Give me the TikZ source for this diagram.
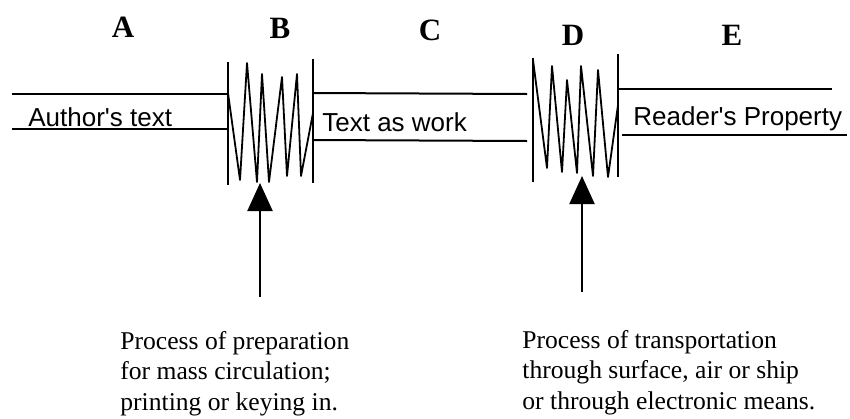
\documentclass[tikz,border=0pt]{standalone}
\usepackage{fontspec}
\setmainfont{Liberation Serif}
\newfontfamily\labsans{Liberation Sans}
\usetikzlibrary{arrows.meta}
\tikzset{
  >={Triangle[length=14pt,width=12.5pt]},
  band/.style={line width=1pt},
  wall/.style={line width=1.3pt},
  zz/.style={line width=0.9pt,line join=round},
  lt/.style={font=\bfseries\fontsize{15.5}{18}\selectfont,inner sep=0pt},
  sf/.style={font=\labsans\fontsize{13}{15}\selectfont,inner sep=0pt,anchor=base west},
  note/.style={font=\fontsize{12.8}{15.25}\selectfont,align=left,inner sep=0pt,anchor=base west},
}
\begin{document}
\begin{tikzpicture}[x=0.5pt,y=-0.5pt]
\useasboundingbox (0,0) rectangle (850,418);
% stage letters
\node[lt] (A) at (123,27){A}; \node[lt] (B) at (280,28){B}; \node[lt] (C) at (430,30){C};
\node[lt] (D) at (573,35){D}; \node[lt] (E) at (732,35){E};
% bands between the two processes
\draw[band] (12,94)--(228,94); \draw[band] (12,129)--(228,129);
\draw[band] (313,93)--(527,94); \draw[band] (313,140)--(527,141);
\draw[band] (618,89)--(832,89); \draw[band] (622,135)--(847,135);
\node[sf] (at) at (28,126){Author's text};
\node[sf] (tw) at (322,131){Text as work};
\node[sf] (rp) at (633,125){Reader's Property};
% process B
\draw[wall] (228,62)--(228,185); \draw[wall] (313,59)--(313,183);
\draw[zz] (228,93)--(240,180)--(247,63)--(257,182)--(262,74)--(269,182)--(282,77)
  --(287,176)--(297,74)--(301,176)--(313,113);
% process D
\draw[wall] (533,58)--(533,182); \draw[wall] (618,54)--(618,177);
\draw[zz] (533,60)--(547,168)--(552,66)--(562,172)--(567,80)--(577,173)--(581,66)
  --(593,176)--(598,70)--(608,177)--(618,105);
% arrows up into the processes
\coordinate (Bin) at (260,183); \coordinate (Bft) at (260,297);
\coordinate (Din) at (582,176); \coordinate (Dft) at (582,292);
\draw[->,line width=1pt] (Bft)--(Bin);
\draw[->,line width=1pt] (Dft)--(Din);
\node[note] (pb) at (120,410){Process of preparation\\for mass circulation;\\printing or keying in.};
\node[note] (pd) at (522,409){Process of transportation\\through surface, air or ship\\or through electronic means.};
\end{tikzpicture}
\end{document}
